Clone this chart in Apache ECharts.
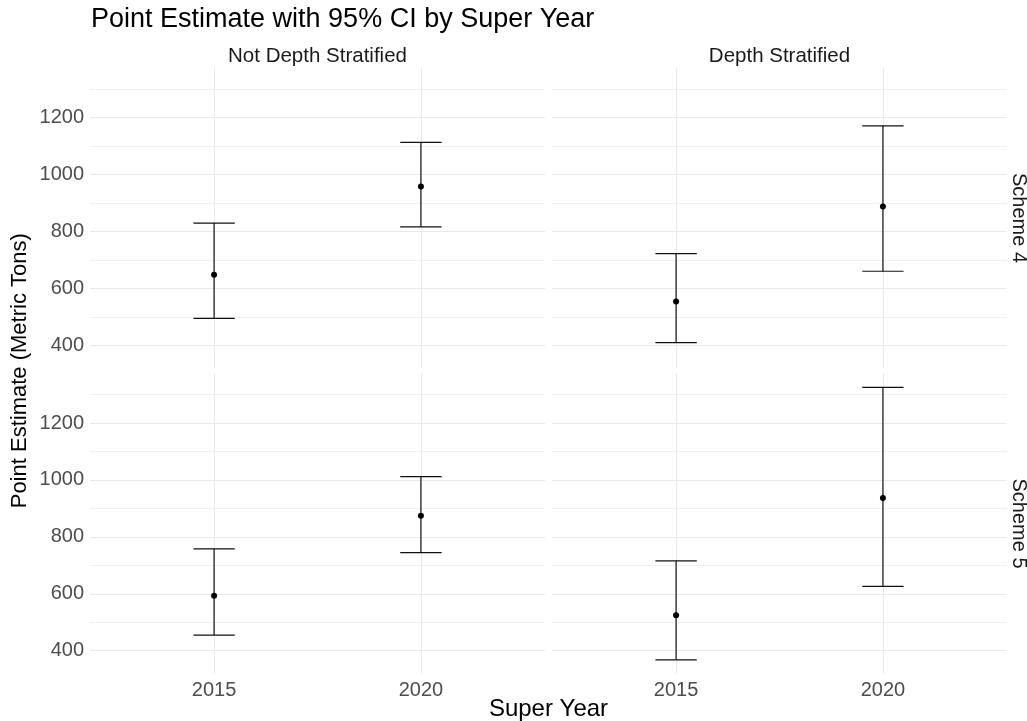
<!DOCTYPE html>
<html><head><meta charset="utf-8">
<script src="https://cdn.jsdelivr.net/npm/echarts@6/dist/echarts.min.js"></script>
<style>html,body{margin:0;padding:0;background:#fff}#chart{width:1027px;height:721px}</style>
</head><body><div id="chart"></div>
<script>
// ---- data ----
const years = ['2015', '2020'];
const columnLabels = ['Not Depth Stratified', 'Depth Stratified'];
const rowLabels = ['Scheme 4', 'Scheme 5'];
const yTicks = [400, 600, 800, 1000, 1200];
const yMinorTicks = [500, 700, 900, 1100, 1300];

const s4NotDepthEst = [648, 958];
const s4NotDepthLower = [494, 816];
const s4NotDepthUpper = [829, 1113];
const s4DepthEst = [554, 887];
const s4DepthLower = [409, 660];
const s4DepthUpper = [722, 1171];
const s5NotDepthEst = [593, 874];
const s5NotDepthLower = [455, 745];
const s5NotDepthUpper = [758, 1012];
const s5DepthEst = [525, 937];
const s5DepthLower = [368, 626];
const s5DepthUpper = [716, 1325];

// ---- layout ----
const FONT = 'Liberation Sans, Arial, sans-serif';
const colLeft = [90, 552], panelW = 455;
const rowTop = [68, 373.5], panelH = 300;
const yMin = 320, yMax = 1374;
const xMin = 0.4, xMax = 2.6;
const capHalf = 0.1;

const panels = [
  {row: 0, col: 0, est: s4NotDepthEst, lo: s4NotDepthLower, hi: s4NotDepthUpper},
  {row: 0, col: 1, est: s4DepthEst, lo: s4DepthLower, hi: s4DepthUpper},
  {row: 1, col: 0, est: s5NotDepthEst, lo: s5NotDepthLower, hi: s5NotDepthUpper},
  {row: 1, col: 1, est: s5DepthEst, lo: s5DepthLower, hi: s5DepthUpper}
];
const xPos = years.map((y, i) => i + 1);

function renderErrorBar(params, api) {
  const x = api.value(0), lo = api.value(1), hi = api.value(2);
  const top = api.coord([x, hi]), bot = api.coord([x, lo]);
  const cl = api.coord([x - capHalf, hi])[0], cr = api.coord([x + capHalf, hi])[0];
  const style = {stroke: '#111', lineWidth: 1.2, fill: null, opacity: 1};
  return {type: 'group', children: [
    {type: 'line', shape: {x1: top[0], y1: top[1], x2: bot[0], y2: bot[1]}, style},
    {type: 'line', shape: {x1: cl, y1: top[1], x2: cr, y2: top[1]}, style},
    {type: 'line', shape: {x1: cl, y1: bot[1], x2: cr, y2: bot[1]}, style}
  ]};
}

const grid = [], xAxis = [], yAxis = [], series = [];
panels.forEach((p, i) => {
  grid.push({left: colLeft[p.col], top: rowTop[p.row], width: panelW, height: panelH});
  xAxis.push({
    type: 'value', gridIndex: i, min: xMin, max: xMax,
    axisLine: {show: false}, axisTick: {show: false, customValues: xPos},
    splitLine: {show: false},
    axisLabel: {show: p.row === 1, customValues: xPos, margin: 7,
      formatter: v => years[Math.round(v) - 1], color: '#4d4d4d', fontSize: 20, fontFamily: FONT}
  });
  yAxis.push({
    type: 'value', gridIndex: i, min: yMin, max: yMax,
    axisLine: {show: false}, axisTick: {show: false, customValues: yTicks},
    splitLine: {show: false},
    axisLabel: {show: p.col === 0, customValues: yTicks, margin: 6,
      formatter: v => String(v), color: '#4d4d4d', fontSize: 20, fontFamily: FONT}
  });
  // gridlines
  series.push({
    type: 'scatter', xAxisIndex: i, yAxisIndex: i, data: [], silent: true, z: 1,
    markLine: {
      z: 1, silent: true, symbol: ['none', 'none'], label: {show: false}, animation: false,
      data: [
        ...yMinorTicks.map(v => ({yAxis: v, lineStyle: {color: '#f0f0f0', width: 1, type: 'solid', opacity: 1}})),
        ...yTicks.map(v => ({yAxis: v, lineStyle: {color: '#e9e9e9', width: 1, type: 'solid', opacity: 1}})),
        ...xPos.map(v => ({xAxis: v, lineStyle: {color: '#e9e9e9', width: 1, type: 'solid', opacity: 1}}))
      ]
    }
  });
  series.push({
    type: 'custom', xAxisIndex: i, yAxisIndex: i, z: 3, silent: true,
    renderItem: renderErrorBar,
    encode: {x: 0, y: [1, 2]},
    data: xPos.map((x, k) => [x, p.lo[k], p.hi[k]])
  });
  series.push({
    type: 'scatter', xAxisIndex: i, yAxisIndex: i, z: 4, silent: true,
    symbol: 'circle', symbolSize: 6,
    itemStyle: {color: '#000', opacity: 1, borderWidth: 0},
    emphasis: {disabled: true},
    data: xPos.map((x, k) => [x, p.est[k]])
  });
});

const graphic = [];
columnLabels.forEach((t, c) => graphic.push({
  type: 'text', x: colLeft[c] + panelW / 2, y: 56,
  style: {text: t, fontSize: 20.5, fontFamily: FONT, fill: '#1a1a1a', align: 'center', verticalAlign: 'middle'}
}));
rowLabels.forEach((t, r) => graphic.push({
  type: 'text', x: 1019, y: rowTop[r] + panelH / 2, rotation: -Math.PI / 2,
  style: {text: t, fontSize: 20, fontFamily: FONT, fill: '#1a1a1a', align: 'center', verticalAlign: 'middle'}
}));
graphic.push({
  type: 'text', x: 20, y: (rowTop[0] + rowTop[1] + panelH) / 2, rotation: Math.PI / 2,
  style: {text: 'Point Estimate (Metric Tons)', fontSize: 22, fontFamily: FONT, fill: '#000', align: 'center', verticalAlign: 'middle'}
});
graphic.push({
  type: 'text', x: (colLeft[0] + colLeft[1] + panelW) / 2, y: 709,
  style: {text: 'Super Year', fontSize: 24, fontFamily: FONT, fill: '#000', align: 'center', verticalAlign: 'middle'}
});
graphic.push({
  type: 'text', x: 91, y: 20,
  style: {text: 'Point Estimate with 95% CI by Super Year', fontSize: 27, fontFamily: FONT, fill: '#000', align: 'left', verticalAlign: 'middle'}
});

const chart = echarts.init(document.getElementById('chart'), null, {renderer: 'canvas'});
chart.setOption({animation: false, backgroundColor: '#fff', grid, xAxis, yAxis, series, graphic});
</script></body></html>
